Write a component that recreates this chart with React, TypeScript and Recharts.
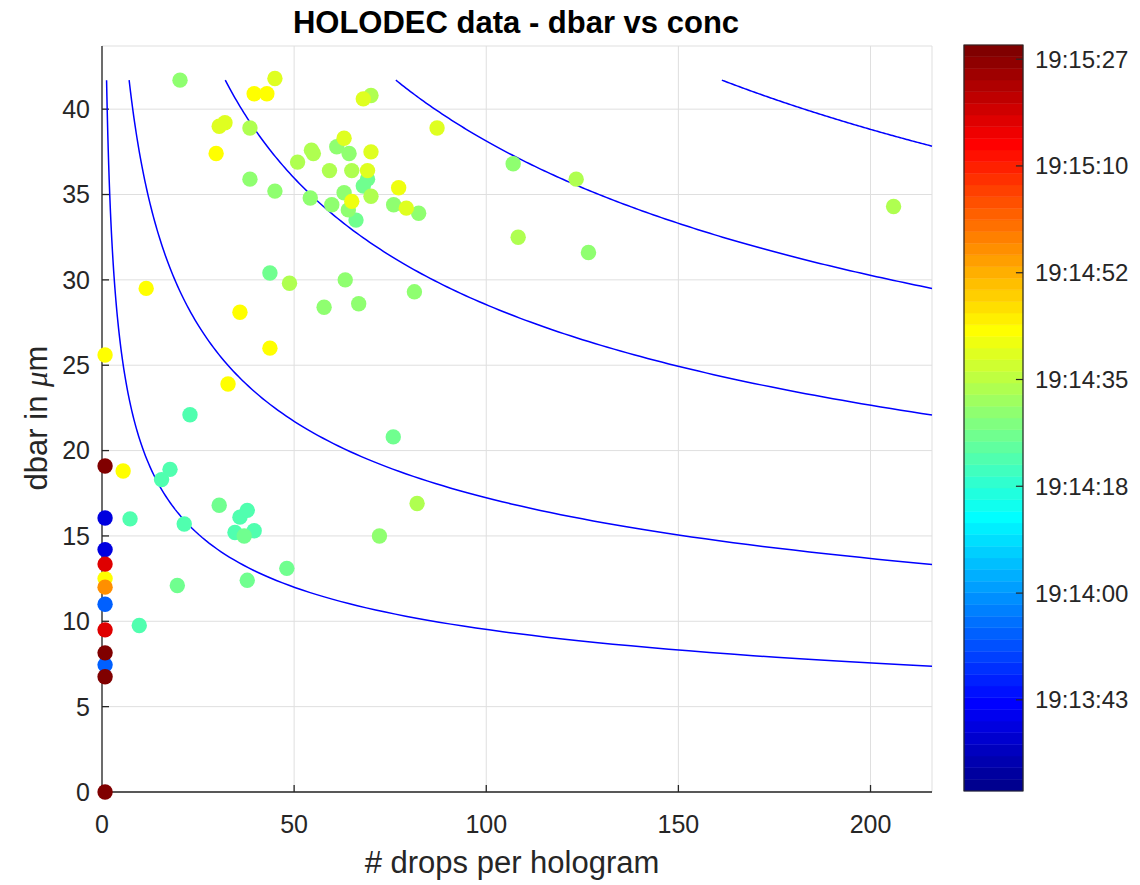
import React from 'react';
import {
  ComposedChart,
  Scatter,
  XAxis,
  YAxis,
  CartesianGrid,
  ReferenceArea,
  ReferenceLine,
  Customized,
} from 'recharts';

// ---------------- data ----------------
const dropsPerHologram = [
  0.8, 0.8, 0.8, 0.8, 0.8, 0.8, 0.8, 0.8, 0.8, 0.8, 0.8, 0.8, 0.8,
  5.5, 7.3, 9.7, 11.5, 15.5, 17.7, 19.6, 20.3, 21.4, 22.9,
  29.7, 30.5, 32.0, 32.8, 30.5, 34.6, 35.9, 37.8, 37.0, 39.6, 37.8, 35.9,
  38.5, 38.5, 39.6, 42.9, 45.0, 43.7, 43.7, 45.0, 48.1, 48.8,
  50.9, 55.0, 54.5, 54.2, 57.8, 59.2, 59.8, 61.1, 63.0, 64.3, 63.3, 63.0,
  65.0, 64.1, 65.0, 66.1, 66.8, 68.0, 70.0, 69.1, 69.1, 68.0, 70.0, 70.0,
  72.2, 75.8, 75.9, 77.2, 79.2, 82.4, 81.3, 82.0, 87.2,
  107.0, 108.3, 123.4, 126.6, 206.0,
];
const dbarMicrons = [
  25.6, 19.1, 16.05, 14.2, 13.35, 12.5, 12.0, 11.0, 9.5, 8.15, 7.45, 6.75, 0,
  18.8, 16.0, 9.75, 29.5, 18.3, 18.9, 12.1, 41.7, 15.7, 22.1,
  37.4, 39.0, 39.2, 23.9, 16.8, 15.2, 16.1, 16.5, 15.0, 15.3, 12.4, 28.1,
  38.9, 35.9, 40.9, 40.9, 41.8, 30.4, 26.0, 35.2, 13.1, 29.8,
  36.9, 37.4, 37.6, 34.8, 28.4, 36.4, 34.4, 37.8, 38.3, 37.4, 30.0, 35.1,
  36.4, 34.1, 34.6, 33.5, 28.6, 40.6, 40.8, 36.4, 35.9, 35.5, 34.9, 37.5,
  15.0, 20.8, 34.4, 35.4, 34.2, 33.9, 29.3, 16.9, 38.9,
  36.8, 32.5, 35.9, 31.6, 34.3,
];
// seconds after 19:13:00
const sampleTimeSec = [
  103.2, 148.6, 39.0, 39.0, 137.7, 103.2, 116.7, 54.1, 137.7, 148.6, 54.1, 148.6, 148.6,
  103.2, 82.6, 82.6, 103.2, 82.6, 82.6, 85.6, 89.3, 82.6, 82.6,
  103.2, 98.9, 98.9, 103.2, 85.6, 82.6, 82.6, 82.6, 85.6, 82.6, 85.6, 103.2,
  94.1, 89.3, 103.2, 103.2, 98.9, 85.6, 103.2, 89.3, 85.6, 94.1,
  94.1, 94.1, 94.1, 89.3, 89.3, 94.1, 89.3, 89.3, 98.9, 89.3, 89.3, 89.3,
  94.1, 89.3, 101.5, 85.6, 89.3, 98.9, 94.1, 98.9, 85.6, 85.6, 94.1, 98.9,
  89.3, 85.6, 89.3, 101.5, 98.9, 89.3, 89.3, 94.1, 98.9,
  89.3, 94.1, 94.1, 89.3, 94.1,
];

const xTicks = [0, 50, 100, 150, 200];
const yTicks = [0, 5, 10, 15, 20, 25, 30, 35, 40];
const X_MAX = 216;
const Y_MAX = 43.7;

// iso-lines: dbar = k * N^(-1/3)
const curveCoefficients = [44.2, 80, 132.5, 177, 227];
const curveMaxDbar = 41.7;

const colorbarMin = 28.7;
const colorbarMax = 149.8;
const colorbarTicks = [43.5, 60.83, 78.17, 95.5, 112.83, 130.17, 147.5];
const colorbarLabels = ['19:13:43', '19:14:00', '19:14:18', '19:14:35', '19:14:52', '19:15:10', '19:15:27'];

// ---------------- helpers ----------------
const clamp01 = (v: number) => Math.max(0, Math.min(1, v));
function jet64(idx: number): string {
  // idx 1..64, MATLAB jet(64)
  const r = clamp01(Math.min((idx - 24) / 16, (72 - idx) / 16));
  const g = clamp01(Math.min((idx - 8) / 16, (56 - idx) / 16));
  const b = clamp01(Math.min((idx + 8) / 16, (40 - idx) / 16));
  const h = (v: number) => Math.round(v * 255).toString(16).padStart(2, '0');
  return '#' + h(r) + h(g) + h(b);
}
function timeColor(t: number): string {
  const c = (t - colorbarMin) / (colorbarMax - colorbarMin);
  const idx = Math.max(1, Math.min(64, Math.floor(c * 64) + 1));
  return jet64(idx);
}

const points = dropsPerHologram
  .map((x, i) => ({ x, y: dbarMicrons[i], t: sampleTimeSec[i], color: timeColor(sampleTimeSec[i]) }))
  .sort((a, b) => a.t - b.t);

const curves = curveCoefficients.map((k) => {
  const nStart = Math.pow(k / curveMaxDbar, 3);
  const steps = 150;
  const pts: { x: number; y: number }[] = [];
  for (let i = 0; i <= steps; i++) {
    const n = nStart * Math.pow(X_MAX / nStart, i / steps);
    pts.push({ x: n, y: k / Math.cbrt(n) });
  }
  return pts;
});

const colorBands = Array.from({ length: 64 }, (_, i) => ({
  y1: colorbarMin + (i * (colorbarMax - colorbarMin)) / 64,
  y2: colorbarMin + ((i + 1) * (colorbarMax - colorbarMin)) / 64,
  color: jet64(i + 1),
}));
const colorbarAnchors = [
  { x: 0, y: colorbarMin },
  { x: 1, y: colorbarMax },
];

const FONT = '"Liberation Sans", Arial, Helvetica, sans-serif';
const AX = '#262626';
const TICK_FS = 25;
const LABEL_FS = 31;

const Dot = (props: any) => {
  const { cx, cy, payload } = props;
  if (cx == null || cy == null) return <g />;
  return <circle cx={cx} cy={cy} r={7.7} fill={payload.color} stroke="none" />;
};
const NoDot = () => <g />;

const Texts = () => (
  <g>
    <text x={516} y={33} textAnchor="middle" fontFamily={FONT} fontSize={31} fontWeight="bold" fill="#000">
      HOLODEC data - dbar vs conc
    </text>
    <text x={512} y={873} textAnchor="middle" fontFamily={FONT} fontSize={LABEL_FS} fill={AX}>
      # drops per hologram
    </text>
    <text
      x={0}
      y={0}
      transform="translate(47,418) rotate(-90)"
      textAnchor="middle"
      fontFamily={FONT}
      fontSize={LABEL_FS}
      fill={AX}
    >
      dbar in <tspan fontStyle="italic" fontFamily='"Liberation Serif", serif'>μ</tspan>m
    </text>
  </g>
);

export default function App() {
  return (
    <div style={{ position: 'absolute', left: 0, top: 0, width: 1140, height: 885, background: '#fff' }}>
      <div style={{ position: 'absolute', left: 0, top: 0 }}>
        <ComposedChart width={940} height={885} margin={{ top: 46, right: 8, bottom: 0, left: 0 }}>
          <CartesianGrid stroke="#dfdfdf" strokeWidth={1} />
          <XAxis
            type="number"
            dataKey="x"
            domain={[0, X_MAX]}
            ticks={xTicks}
            height={93}
            tickSize={-7}
            tickMargin={30}
            axisLine={{ stroke: AX, strokeWidth: 1.3 }}
            tickLine={{ stroke: AX, strokeWidth: 1.3 }}
            tick={{ fill: AX, fontSize: TICK_FS, fontFamily: FONT }}
            interval={0}
          />
          <YAxis
            type="number"
            dataKey="y"
            domain={[0, Y_MAX]}
            ticks={yTicks}
            width={102}
            tickSize={-7}
            tickMargin={19}
            axisLine={{ stroke: AX, strokeWidth: 1.3 }}
            tickLine={{ stroke: AX, strokeWidth: 1.3 }}
            tick={{ fill: AX, fontSize: TICK_FS, fontFamily: FONT }}
            interval={0}
          />
          {curves.map((pts, i) => (
            <Scatter
              key={'c' + i}
              data={pts}
              shape={NoDot}
              line={{ stroke: '#0000ff', strokeWidth: 1.5 }}
              lineType="joint"
              isAnimationActive={false}
            />
          ))}
          <Scatter data={points} shape={Dot} isAnimationActive={false} />
          <Customized component={Texts} />
        </ComposedChart>
      </div>
      <div style={{ position: 'absolute', left: 940, top: 0 }}>
        <ComposedChart
          width={200}
          height={885}
          data={colorbarAnchors}
          margin={{ top: 45, right: 0, bottom: 94, left: 24 }}
        >
          <XAxis type="number" dataKey="x" domain={[0, 1]} hide />
          <YAxis
            type="number"
            dataKey="y"
            orientation="right"
            domain={[colorbarMin, colorbarMax]}
            ticks={colorbarTicks}
            tickFormatter={(v: number, i: number) => colorbarLabels[i]}
            width={117}
            axisLine={false}
            tickLine={false}
            tickSize={0}
            tickMargin={12}
            tick={{ fill: AX, fontSize: 24, fontFamily: FONT }}
            interval={0}
          />
          <Scatter data={colorbarAnchors} shape={NoDot} isAnimationActive={false} />
          {colorBands.map((b, i) => (
            <ReferenceArea
              key={'b' + i}
              x1={0}
              x2={1}
              y1={b.y1}
              y2={b.y2}
              fill={b.color}
              fillOpacity={1}
              stroke={b.color}
              strokeWidth={0.5}
              ifOverflow="visible"
            />
          ))}
          <ReferenceArea
            x1={0}
            x2={1}
            y1={colorbarMin}
            y2={colorbarMax}
            fill="none"
            fillOpacity={0}
            stroke={AX}
            strokeWidth={1.2}
            ifOverflow="visible"
          />
          {colorbarTicks.map((t, i) => (
            <ReferenceLine
              key={'t' + i}
              segment={[
                { x: 0.88, y: t },
                { x: 1, y: t },
              ]}
              stroke={AX}
              strokeWidth={1.2}
              ifOverflow="visible"
            />
          ))}
        </ComposedChart>
      </div>
    </div>
  );
}
